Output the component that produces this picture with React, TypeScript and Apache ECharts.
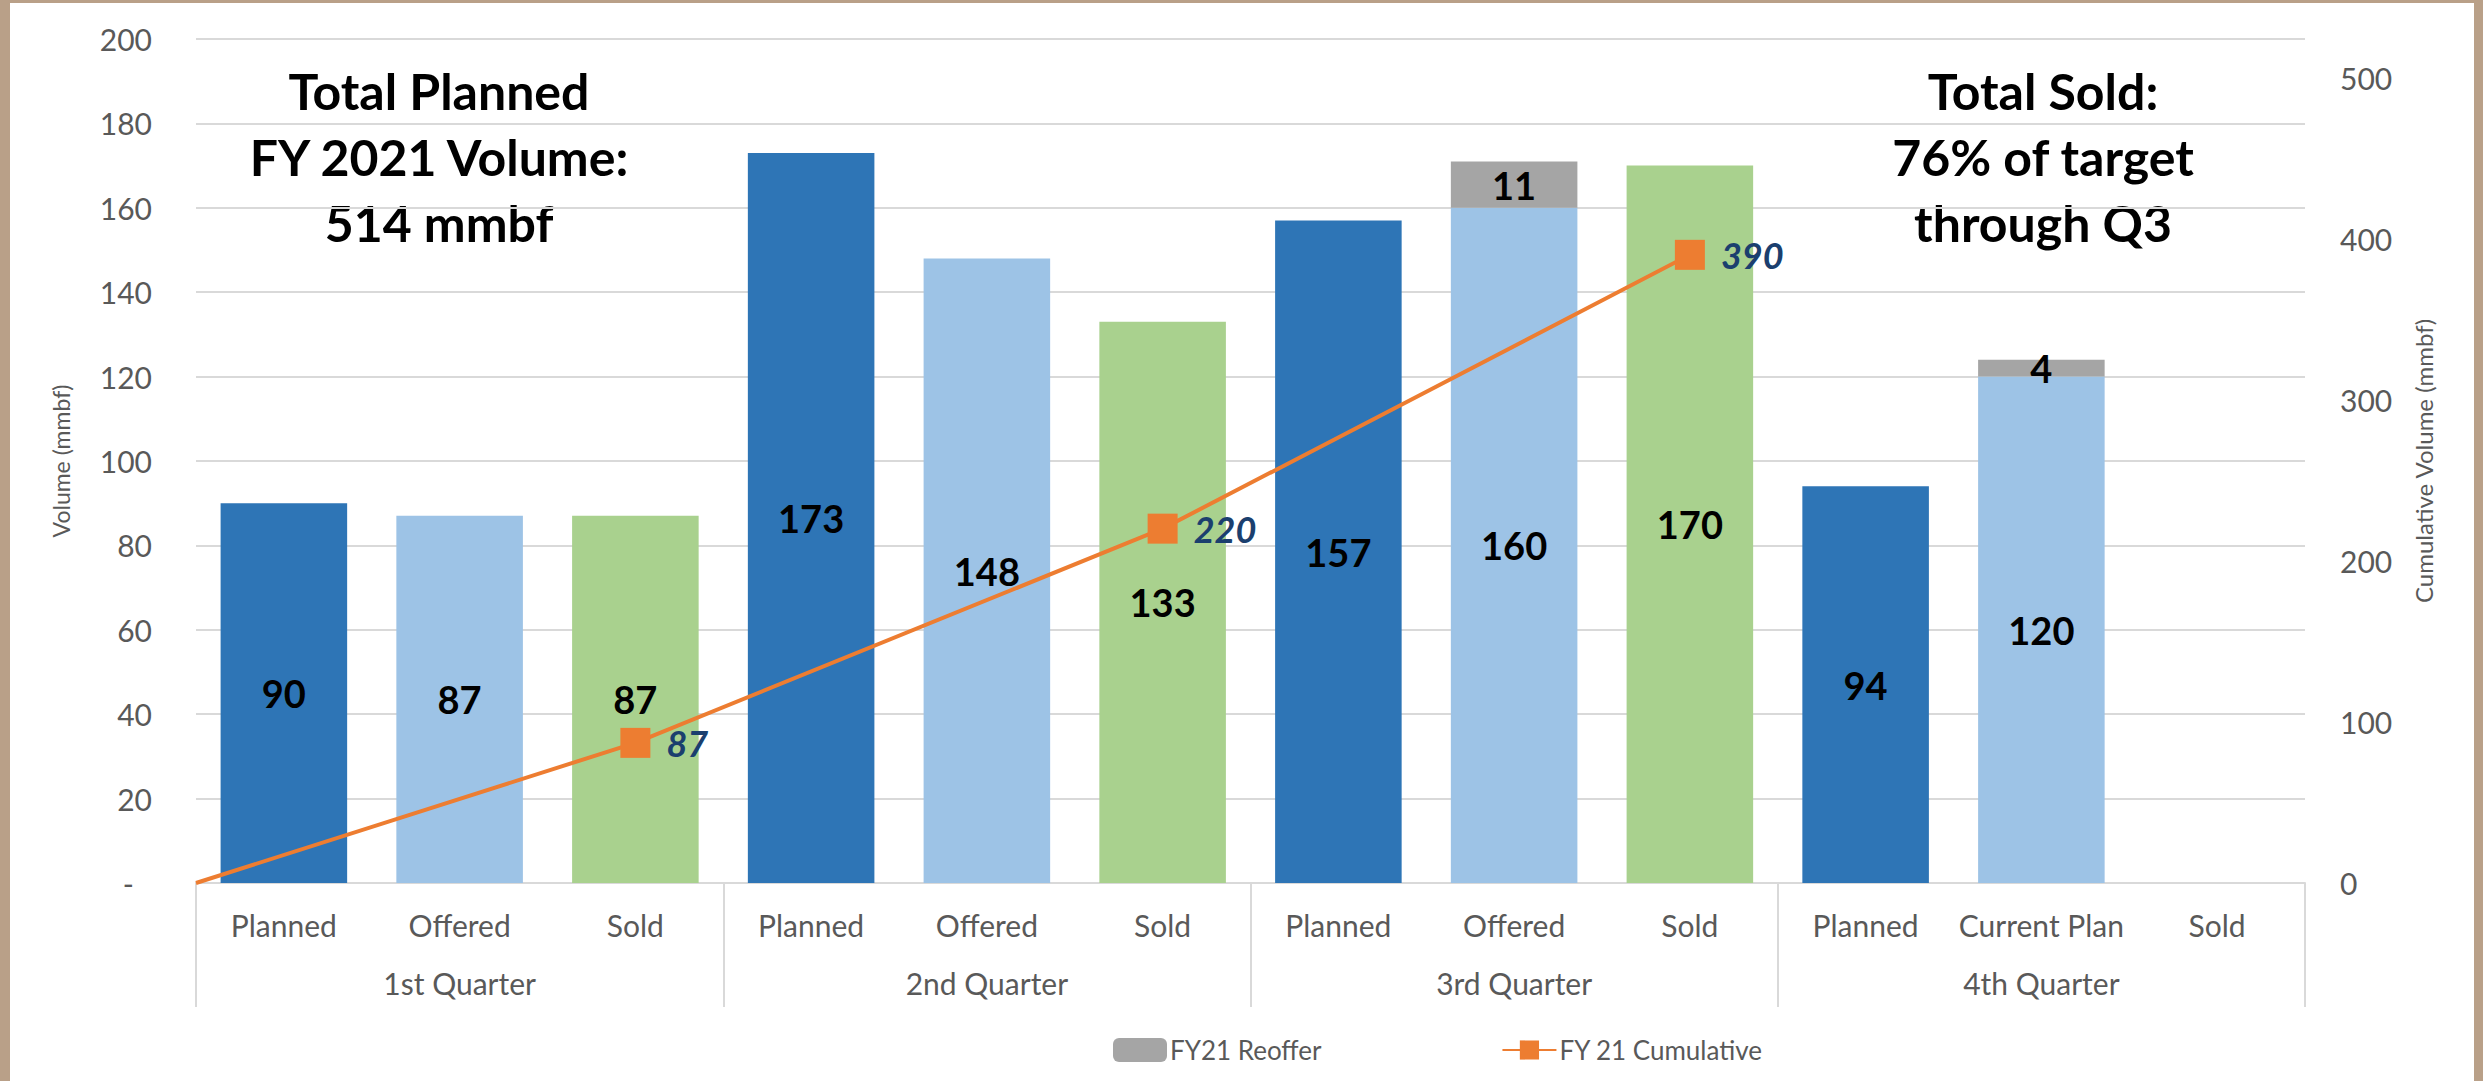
import React, { useEffect, useRef } from "react";
import * as echarts from "echarts";

const categories = ["Planned", "Offered", "Sold", "Planned", "Offered", "Sold", "Planned", "Offered", "Sold", "Planned", "Current Plan", "Sold"];
const quarters = ["1st Quarter", "2nd Quarter", "3rd Quarter", "4th Quarter"];
const planned = [90, 173, 157, 94];
const offered = [87, 148, 160, 120];
const reoffer = [null, null, 11, 4];
const sold = [87, 133, 170, null];
const cumulativeX = [0, 2.5, 5.5, 8.5];
const cumulative = [0, 87, 220, 390];
const leftTicks = [0, 200, 20];
const rightTicks = [0, 524, 100];

const FONT = "Lato, 'Noto Sans', sans-serif";
const GRAY_TXT = "#595959";

function spread(vals: (number | null)[], slot: number) {
  const out: (number | null)[] = new Array(categories.length).fill(null);
  vals.forEach((v, q) => {
    out[q * 3 + slot] = v;
  });
  return out;
}

export default function App() {
  const ref = useRef<HTMLDivElement>(null);
  useEffect(() => {
    if (!ref.current) return;
    const chart = echarts.init(ref.current, null, { renderer: "svg" });
    const barLabel = {
      show: true,
      position: "inside",
      color: "#000",
      fontWeight: "bold",
      fontSize: 38,
      fontFamily: FONT,
    };
    const lineData = cumulativeX.map((x, i) =>
      i === 0
        ? { value: [x, cumulative[i]], symbol: "none", label: { show: false } }
        : { value: [x, cumulative[i]] }
    );
    chart.setOption({
      animation: false,
      backgroundColor: "#fff",
      textStyle: { fontFamily: FONT },
      grid: { left: 196, right: 178, top: 39, bottom: 198, containLabel: false },
      legend: {
        data: ["FY21 Reoffer", "FY 21 Cumulative"],
        left: 1108,
        top: 1032,
        itemGap: 180,
        itemWidth: 54,
        itemHeight: 24,
        textStyle: { color: GRAY_TXT, fontSize: 26, fontFamily: FONT, padding: [0, 0, 0, -2] },
      },
      xAxis: [
        {
          type: "category",
          data: categories,
          position: "bottom",
          axisLine: { show: true, lineStyle: { color: "#D9D9D9", width: 2 } },
          axisTick: { show: false },
          axisLabel: { color: GRAY_TXT, fontSize: 30, margin: 27, interval: 0, fontFamily: FONT },
        },
        {
          type: "category",
          data: quarters,
          position: "bottom",
          axisLine: { show: false, onZero: false },
          axisTick: { show: true, length: 124, lineStyle: { color: "#D9D9D9", width: 2 } },
          axisLabel: { color: GRAY_TXT, fontSize: 30, margin: 85, interval: 0, fontFamily: FONT },
          splitLine: { show: false },
        },
        {
          type: "value",
          min: 0,
          max: 12,
          show: false,
          position: "top",
        },
      ],
      yAxis: [
        {
          type: "value",
          min: leftTicks[0],
          max: leftTicks[1],
          interval: leftTicks[2],
          name: "Volume (mmbf)",
          nameLocation: "middle",
          nameRotate: 90,
          nameGap: 124,
          nameTextStyle: { color: GRAY_TXT, fontSize: 23, fontFamily: FONT },
          axisLine: { show: false },
          axisTick: { show: false },
          axisLabel: {
            color: GRAY_TXT,
            fontSize: 30,
            margin: 44,
            fontFamily: FONT,
            formatter: (v: number) => (v === 0 ? "{z|-}" : String(v)),
            rich: { z: { color: GRAY_TXT, fontSize: 30, fontFamily: FONT, padding: [0, 18, 0, 0] } },
          },
          splitLine: { show: true, lineStyle: { color: "#D9D9D9", width: 2 } },
        },
        {
          type: "value",
          min: rightTicks[0],
          max: rightTicks[1],
          interval: rightTicks[2],
          position: "right",
          name: "Cumulative Volume (mmbf)",
          nameLocation: "middle",
          nameRotate: 90,
          nameGap: 106,
          nameTextStyle: { color: GRAY_TXT, fontSize: 24, fontFamily: FONT },
          axisLine: { show: false },
          axisTick: { show: false },
          axisLabel: {
            color: GRAY_TXT,
            fontSize: 30,
            margin: 35,
            fontFamily: FONT,
            formatter: (v: number) => (v % 100 === 0 ? String(v) : ""),
          },
          splitLine: { show: false },
        },
      ],
      series: [
        {
          name: "Planned",
          type: "bar",
          stack: "all",
          barWidth: "72%",
          data: spread(planned, 0),
          itemStyle: { color: "#2E75B6" },
          label: barLabel,
        },
        {
          name: "Offered",
          type: "bar",
          stack: "all",
          barWidth: "72%",
          data: spread(offered, 1),
          itemStyle: { color: "#9DC3E6" },
          label: barLabel,
        },
        {
          name: "FY21 Reoffer",
          type: "bar",
          stack: "all",
          barWidth: "72%",
          data: spread(reoffer, 1),
          itemStyle: { color: "#A5A5A5" },
          label: barLabel,
        },
        {
          name: "Sold",
          type: "bar",
          stack: "all",
          barWidth: "72%",
          data: spread(sold, 2),
          itemStyle: { color: "#A9D18E" },
          label: barLabel,
        },
        {
          name: "FY 21 Cumulative",
          type: "line",
          xAxisIndex: 2,
          yAxisIndex: 1,
          data: lineData,
          symbol: "rect",
          symbolSize: 30,
          z: 5,
          itemStyle: { color: "#ED7D31" },
          lineStyle: { color: "#ED7D31", width: 4 },
          label: {
            show: true,
            position: "right",
            distance: 16,
            color: "#1B3F6E",
            fontStyle: "italic",
            fontWeight: "bold",
            fontSize: 36,
            fontFamily: FONT,
            formatter: (p: any) => String(p.value[1]),
          },
        },
      ],
      graphic: [
        {
          type: "text",
          x: 439,
          y: 58,
          style: {
            text: "Total Planned\nFY 2021 Volume:\n514 mmbf",
            align: "center",
            verticalAlign: "top",
            fill: "#000",
            font: `bold 50px ${FONT}`,
            lineHeight: 66,
          },
        },
        {
          type: "text",
          x: 2043,
          y: 58,
          style: {
            text: "Total Sold:\n76% of target\nthrough Q3",
            align: "center",
            verticalAlign: "top",
            fill: "#000",
            font: `bold 50px ${FONT}`,
            lineHeight: 66,
          },
        },
        { type: "rect", shape: { x: 0, y: 0, width: 10, height: 1081 }, style: { fill: "#B9A088" }, z: 100 },
        { type: "rect", shape: { x: 0, y: 0, width: 2483, height: 3 }, style: { fill: "#B9A088" }, z: 100 },
        { type: "rect", shape: { x: 2474, y: 0, width: 9, height: 1081 }, style: { fill: "#B9A088" }, z: 100 },
      ],
    });
    return () => chart.dispose();
  }, []);
  return (
    <div
      ref={ref}
      style={{ position: "fixed", left: 0, top: 0, width: 2483, height: 1081, background: "#fff" }}
    />
  );
}
